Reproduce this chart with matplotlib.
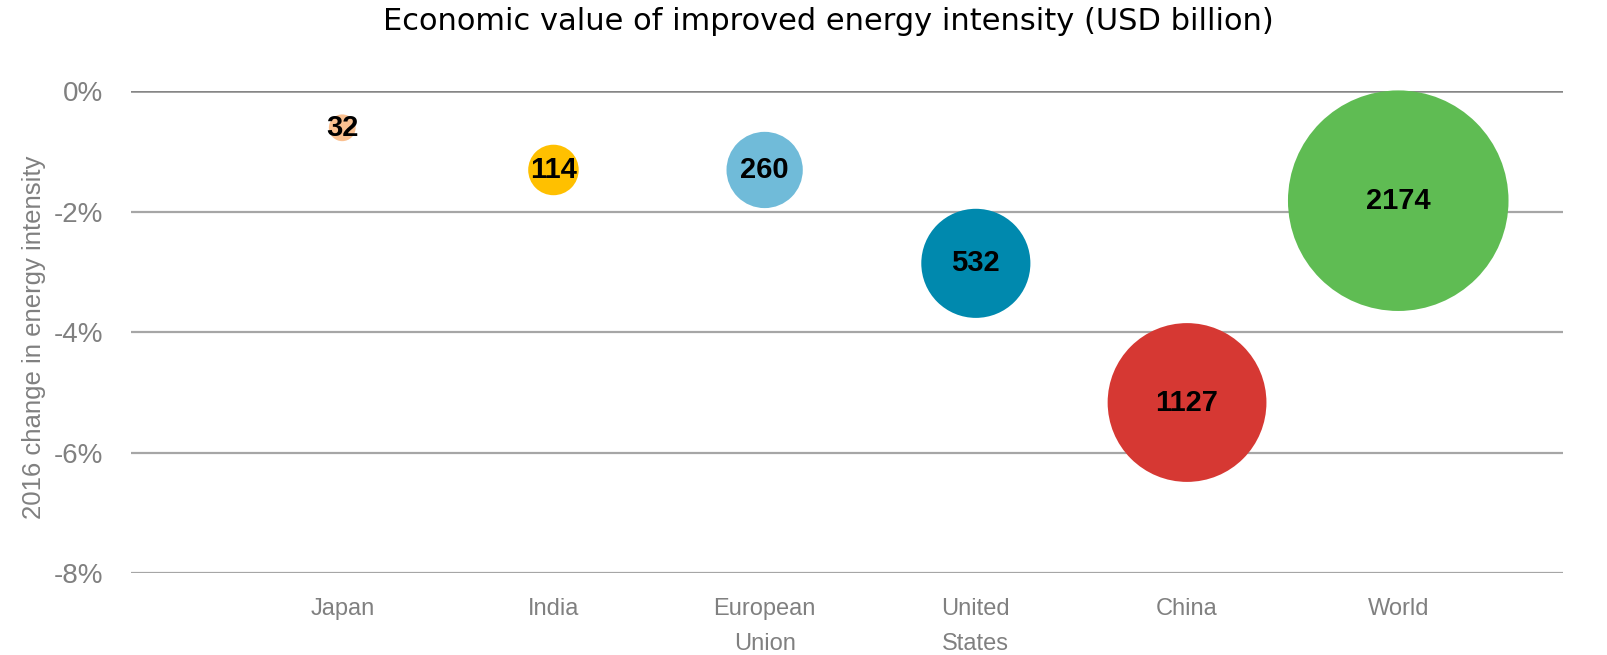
import matplotlib.pyplot as plt
import numpy as np

# data
regions = ['Japan', 'India', 'European\nUnion', 'United\nStates', 'China', 'World']
change_pct = [-0.61, -1.31, -1.31, -2.86, -5.17, -1.82]
value_usd_bn = [32, 114, 260, 532, 1127, 2174]
colors = ['#FAC090', '#FFC000', '#70BBD9', '#0089AE', '#D63833', '#5FBC53']

narrow = ['Liberation Sans', 'DejaVu Sans']

fig = plt.figure(figsize=(16.08, 6.55), dpi=100)
ax = fig.add_axes([0.0815, 0.1252, 0.8905, 0.7358])

x = np.arange(1, len(regions) + 1)
sizes = np.array(value_usd_bn) * 11.6
ax.scatter(x, change_pct, s=sizes, c=colors, edgecolors='none', zorder=3, clip_on=False)

for xi, yi, v in zip(x, change_pct, value_usd_bn):
    ax.text(xi, yi, str(v), ha='center', va='center', fontsize=21, fontweight='bold',
            family=narrow, color='black', zorder=4)

ax.set_xlim(0, 6.78)
ax.set_ylim(-8, 0)
ax.set_yticks([0, -2, -4, -6, -8])
ax.set_yticklabels(['0%', '-2%', '-4%', '-6%', '-8%'])
ax.set_xticks(x)
ax.set_xticklabels(regions, linespacing=1.75)

for lab in ax.get_yticklabels():
    lab.set_family(narrow)
    lab.set_fontsize(20)
    lab.set_color('#808080')
for lab in ax.get_xticklabels():
    lab.set_family(narrow)
    lab.set_fontsize(17)
    lab.set_color('#808080')
    lab.set_verticalalignment('top')

ax.tick_params(axis='y', length=0, pad=20)
ax.tick_params(axis='x', length=0, pad=18)

for spine in ax.spines.values():
    spine.set_visible(False)

for yv in [-2, -4, -6, -8]:
    ax.axhline(yv, color='#A6A6A6', lw=1.6, zorder=1)
ax.axhline(0, color='#868686', lw=1.8, zorder=1)

ax.set_ylabel('2016 change in energy intensity', family=narrow, fontsize=18.5,
              color='#808080')
ax.yaxis.set_label_coords(-0.0595, 0.488)

fig.text(0.515, 0.967, 'Economic value of improved energy intensity (USD billion)',
         ha='center', va='center', fontsize=22, family=['DejaVu Sans'], color='black')

fig.savefig('out.png', dpi=100)
